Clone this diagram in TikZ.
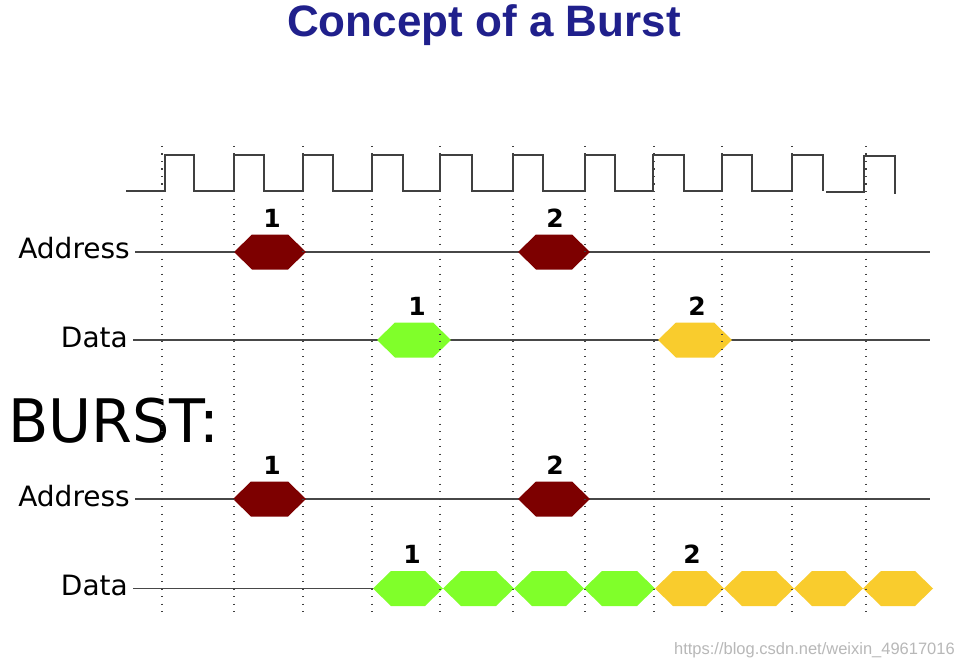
\documentclass[tikz,border=0pt]{standalone}
\usepackage{fontspec}
\setmainfont{DejaVu Sans}
\newfontfamily\titlefont{Liberation Sans}
\definecolor{titleblue}{RGB}{32,32,140}
\definecolor{addrred}{RGB}{125,0,0}
\definecolor{datagreen}{RGB}{128,255,42}
\definecolor{datayellow}{RGB}{249,204,45}
\newcommand\hexa[4]{\fill[#4] (#1,#3) -- (#1+18,#3-17.5) -- (#2-18,#3-17.5) -- (#2,#3) -- (#2-18,#3+17.5) -- (#1+18,#3+17.5) -- cycle;}
\begin{document}
\begin{tikzpicture}[x=1pt,y=-1pt,
  sigline/.style={draw=black!72,line width=1.8pt},
  clk/.style={draw=black!75,line width=1.9pt},
  grid/.style={draw=black!75,line width=1.4pt,dash pattern=on 1.3pt off 6.2pt},
  siglabel/.style={inner sep=0pt,anchor=base east,font=\fontsize{28}{30}\selectfont},
  num/.style={inner sep=0pt,anchor=base,font=\fontsize{25}{27}\selectfont\bfseries}]
\useasboundingbox[fill=white] (0,0) rectangle (964,666);
% title
\node[inner sep=0pt,anchor=base,text=titleblue,font=\titlefont\fontsize{44}{46}\selectfont\bfseries] (title) at (484,37) {Concept of a Burst};
% clock
\draw[clk,line join=miter] (126,191) -- (165,191) -- (165,155) -- (194,155) -- (194,191) -- (234,191) -- (234,155) -- (264,155) -- (264,191) -- (303,191) -- (303,155) -- (333,155) -- (333,191) -- (372,191) -- (372,155) -- (403,155) -- (403,191) -- (440,191) -- (440,155) -- (472,155) -- (472,191) -- (513,191) -- (513,155) -- (543,155) -- (543,191) -- (585,191) -- (585,155) -- (615,155) -- (615,191) -- (653,191) -- (653,155) -- (684,155) -- (684,191) -- (722,191) -- (722,155) -- (752,155) -- (752,191) -- (792,191) -- (792,155) -- (823,155) -- (823,191);
\draw[clk,line join=miter] (826,192) -- (864,192) -- (864,156) -- (895,156) -- (895,194);
% labels
\node[siglabel] (addr1) at (130,258) {Address};
\node[siglabel] (data1) at (128,347) {Data};
\node[inner sep=0pt,anchor=base west,xscale=0.98,font=\fontsize{60}{62}\selectfont] (burst) at (8,442) {BURST:};
\node[siglabel] (addr2) at (130,506) {Address};
\node[siglabel] (data2) at (128,595) {Data};
% signal lines
\draw[sigline] (addr1.base east) ++(5,-6) coordinate (a1s) -- (930,252) coordinate (a1e);
\draw[sigline] (133,340) coordinate (d1s) -- (930,340) coordinate (d1e);
\draw[sigline] (135,499) coordinate (a2s) -- (930,499) coordinate (a2e);
\draw[sigline] (133,588.5) coordinate (d2s) -- (376,588.5) coordinate (d2e);
% hexagons top
\hexa{234}{306}{252}{addrred}
\hexa{518}{590}{252}{addrred}
\hexa{377}{451}{340}{datagreen}
\hexa{658}{732}{340}{datayellow}
% hexagons burst
\hexa{233}{306}{499}{addrred}
\hexa{518}{590}{499}{addrred}
\hexa{373}{443}{588.5}{datagreen}
\hexa{443}{514}{588.5}{datagreen}
\hexa{514}{584}{588.5}{datagreen}
\hexa{584}{655}{588.5}{datagreen}
\hexa{655}{724}{588.5}{datayellow}
\hexa{724}{794}{588.5}{datayellow}
\hexa{794}{863}{588.5}{datayellow}
\hexa{863}{933}{588.5}{datayellow}
% numbers
\node[num] (n1a) at (272,227) {1};
\node[num] (n2a) at (555,227) {2};
\node[num] (n1d) at (417,315) {1};
\node[num] (n2d) at (697,315) {2};
\node[num] (n1b) at (272,474) {1};
\node[num] (n2b) at (555,474) {2};
\node[num] (n1e) at (412,563) {1};
\node[num] (n2e) at (692,563) {2};
% dotted grid
\foreach \gx in {162,234,303,372,440,513,585,654,722,792,866}
  \draw[grid] (\gx,146) -- (\gx,616);
% watermark
\node[inner sep=0pt,anchor=base east,text=black!28,font=\titlefont\fontsize{16.5}{18}\selectfont] (wm) at (955,654) {https://blog.csdn.net/weixin\_49617016};
\end{tikzpicture}
\end{document}
